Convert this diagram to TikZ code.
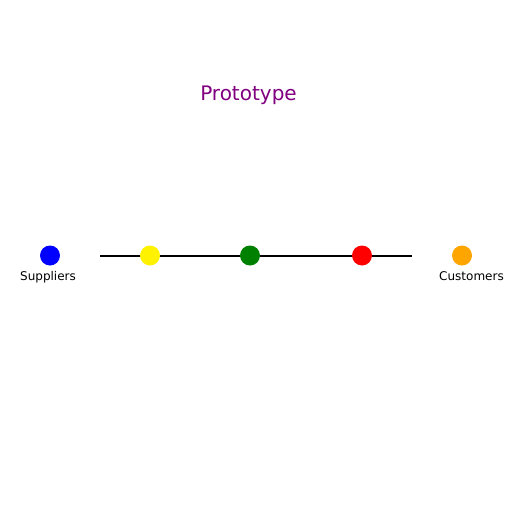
\documentclass[tikz,border=0pt]{standalone}
\usepackage{fontspec}
\setmainfont{DejaVu Sans}
\definecolor{ttl}{RGB}{128,0,128}
\definecolor{orng}{RGB}{255,165,0}
\definecolor{grn}{RGB}{0,128,0}
\begin{document}
\begin{tikzpicture}[x=1pt,y=-1pt,
  dot/.style={circle,inner sep=0pt,minimum size=20pt,draw=none},
  lbl/.style={font=\fontsize{12}{14}\selectfont,inner sep=0pt,anchor=base}]
\useasboundingbox (0,0) rectangle (512,512);
\node[font=\fontsize{20}{23}\selectfont,text=ttl,anchor=base,inner sep=0pt] (title) at (248.5,100) {Prototype};
\coordinate (ls) at (100,255.5);
\coordinate (le) at (412,255.5);
\draw[line width=2pt] (ls) -- (le);
\node[dot,fill=blue] (sup) at (50,255.5) {};
\node[dot,fill=yellow] (y) at (150,255.5) {};
\node[dot,fill=grn] (g) at (250,255.5) {};
\node[dot,fill=red] (r) at (362,255.5) {};
\node[dot,fill=orng] (cus) at (462,255.5) {};
\node[lbl] (suplbl) at (48,280) {Suppliers};
\node[lbl] (cuslbl) at (471.5,280) {Customers};
\end{tikzpicture}
\end{document}
